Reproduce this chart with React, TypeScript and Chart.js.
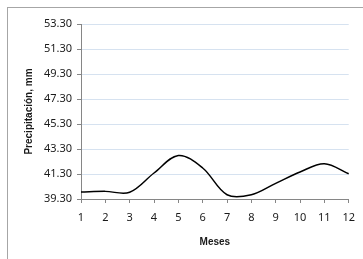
import React, { useEffect, useRef } from "react";
import { Chart, registerables } from "chart.js";

Chart.register(...registerables);

const months = ["1", "2", "3", "4", "5", "6", "7", "8", "9", "10", "11", "12"];
const precipitation = [39.86, 39.91, 39.84, 41.38, 42.78, 41.78, 39.64, 39.64, 40.55, 41.46, 42.12, 41.32];
const yTicks = [39.3, 41.3, 43.3, 45.3, 47.3, 49.3, 51.3, 53.3];

export default function App() {
  const ref = useRef<HTMLCanvasElement>(null);

  useEffect(() => {
    if (!ref.current) return;
    const chart = new Chart(ref.current, {
      type: "line",
      data: {
        labels: months,
        datasets: [
          {
            data: precipitation,
            borderColor: "#000000",
            borderWidth: 1.5,
            pointRadius: 0,
            tension: 0.35,
            fill: false,
          },
        ],
      },
      options: {
        responsive: false,
        animation: false,
        devicePixelRatio: 1,
        layout: { padding: { top: 24, right: 12, left: 0, bottom: 0 } },
        plugins: { legend: { display: false }, tooltip: { enabled: false } },
        scales: {
          x: {
            type: "category",
            offset: false,
            afterFit: (s: any) => {
              s.height = 60;
            },
            grid: {
              drawOnChartArea: false,
              drawTicks: true,
              tickLength: 4,
              tickColor: "#868686",
            },
            border: { display: true, color: "#868686", width: 1 },
            ticks: {
              padding: 8,
              color: "#1a1a1a",
              font: { family: "'Noto Sans'", size: 11 },
              maxRotation: 0,
              autoSkip: false,
            },
            title: {
              display: true,
              text: "Meses",
              color: "#1a1a1a",
              font: { family: "'Liberation Sans'", size: 10, weight: "bold" },
              padding: { top: 0, bottom: 11 },
            },
          },
          y: {
            type: "linear",
            min: 39.3,
            max: 53.3,
            afterFit: (s: any) => {
              s.width = 81;
            },
            afterBuildTicks: (s: any) => {
              s.ticks = yTicks.map((v) => ({ value: v }));
            },
            grid: {
              drawTicks: true,
              tickLength: 4,
              tickColor: "#868686",
              color: (ctx: any) => (ctx.tick && Math.abs(ctx.tick.value - 39.3) < 1e-6 ? "rgba(0,0,0,0)" : "#d6e2f0"),
              lineWidth: 1,
            },
            border: { display: true, color: "#868686", width: 1 },
            ticks: {
              padding: 5,
              color: "#1a1a1a",
              font: { family: "'Noto Sans'", size: 11 },
              callback: (v: any) => Number(v).toFixed(2),
            },
            title: {
              display: true,
              text: "Precipitación, mm",
              color: "#1a1a1a",
              font: { family: "'Liberation Sans'", size: 10, weight: "bold" },
              padding: { top: 23, bottom: 0 },
            },
          },
        },
      },
    });
    return () => chart.destroy();
  }, []);

  return (
    <div style={{ position: "fixed", left: 0, top: 0, width: 363, height: 259, overflow: "hidden", background: "#fff" }}>
      <div
        style={{
          position: "absolute",
          left: 7,
          top: 7,
          width: 420,
          height: 320,
          border: "1px solid #a6a6a6",
          boxShadow: "0 1px 0 #d0d0d0",
        }}
      />
      <canvas ref={ref} width={363} height={259} style={{ position: "absolute", left: 0, top: 0 }} />
    </div>
  );
}
